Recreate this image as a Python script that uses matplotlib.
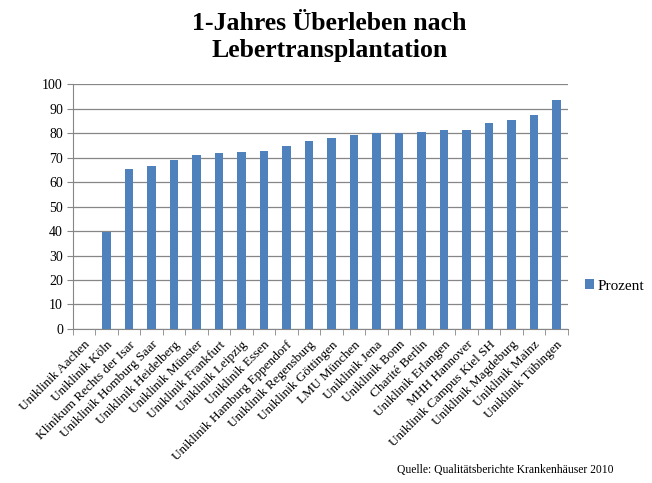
import matplotlib
matplotlib.use("Agg")
import matplotlib.pyplot as plt
import numpy as np

kliniken = [
    "Uniklinik Aachen", "Uniklinik Köln", "Klinikum Rechts der Isar",
    "Uniklinik Homburg Saar", "Uniklinik Heidelberg", "Uniklinik Münster",
    "Uniklinik Frankfurt", "Uniklinik Leipzig", "Uniklinik Essen",
    "Uniklinik Hamburg Eppendorf", "Uniklinik Regensburg", "Uniklinik Göttingen",
    "LMU München", "Uniklinik Jena", "Uniklinik Bonn", "Charité Berlin",
    "Uniklinik Erlangen", "MHH Hannover", "Uniklinik Campus Kiel SH",
    "Uniklinik Magdeburg", "Uniklinik Mainz", "Uniklinik Tübingen",
]
prozent = [0, 39.8, 65.3, 66.5, 68.9, 71.0, 72.1, 72.3, 72.6, 74.7, 76.8,
           78.2, 79.4, 80.1, 80.0, 80.4, 81.3, 81.3, 84.3, 85.4, 87.5, 93.5]
y_ticks = list(range(0, 101, 10))

plt.rcParams['font.family'] = ['Liberation Serif', 'DejaVu Serif']

fig = plt.figure(figsize=(6.52, 4.83), dpi=100)
ax = fig.add_axes([0.1115, 0.319, 0.7595, 0.5065])

x = np.arange(len(kliniken))
ax.bar(x, prozent, width=0.38, color='#4F81BD', label='Prozent', zorder=3)

ax.set_xlim(-0.5, len(kliniken) - 0.5)
ax.set_ylim(0, 100)
ax.set_yticks(y_ticks)
ax.tick_params(axis='y', labelsize=10, length=4, color='#868686', pad=3)
ax.yaxis.grid(True, color='#868686', linewidth=0.9, zorder=0)

ax.set_xticks(x)
ax.set_xticklabels(kliniken, rotation=45, ha='right', rotation_mode='anchor', fontsize=9.5)
ax.tick_params(axis='x', which='major', length=0, pad=7)
ax.set_xticks(np.arange(-0.5, len(kliniken), 1), minor=True)
ax.tick_params(axis='x', which='minor', length=4, color='#868686')

for s in ['top', 'right']:
    ax.spines[s].set_visible(False)
for s in ['left', 'bottom']:
    ax.spines[s].set_color('#868686')

fig.text(0.505, 0.975, "1-Jahres Überleben nach\nLebertransplantation",
         ha='center', va='top', fontsize=18.5, fontweight='bold', linespacing=1.2)

fig.legend(loc='center left', bbox_to_anchor=(0.897, 0.408), frameon=False,
           fontsize=11, handlelength=0.6, handleheight=0.6, handletextpad=0.2,
           borderpad=0, borderaxespad=0)

fig.text(0.609, 0.027, "Quelle: Qualitätsberichte Krankenhäuser 2010",
         ha='left', va='center', fontsize=8.4)

fig.savefig("out.png", dpi=100)
